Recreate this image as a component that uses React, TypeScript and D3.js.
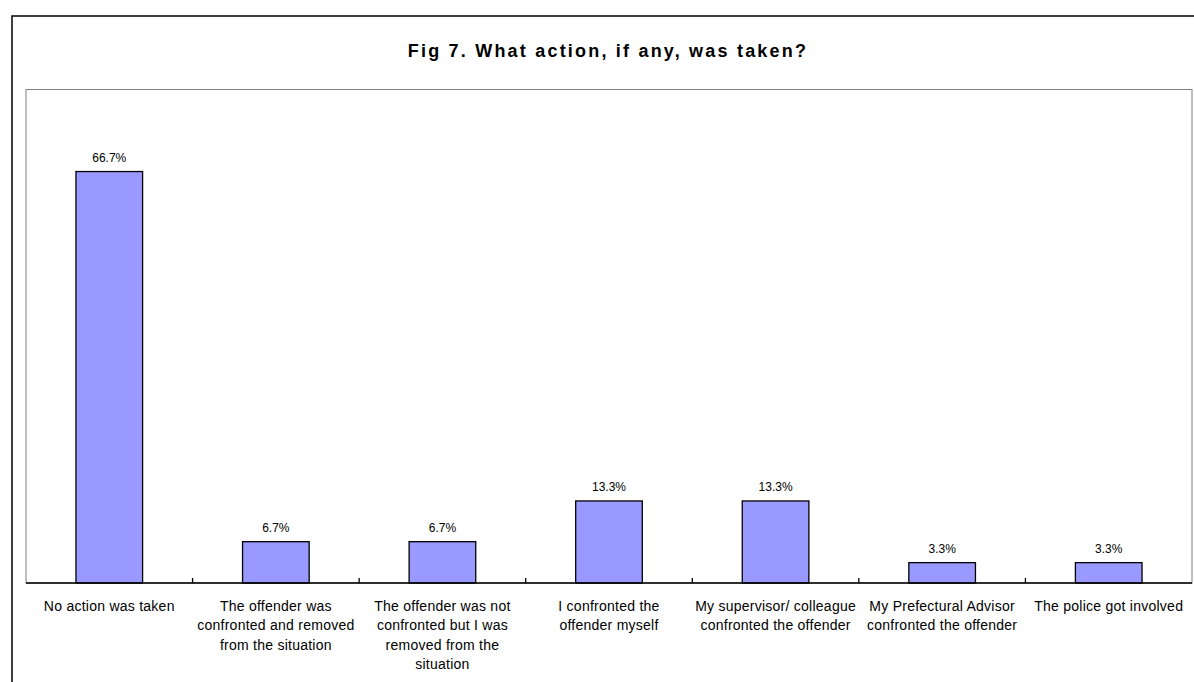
import React from "react";
import * as d3 from "d3";

const title = "Fig 7. What action, if any, was taken?";
const categories = [
  "No action was taken",
  "The offender was\nconfronted and removed\nfrom the situation",
  "The offender was not\nconfronted but I was\nremoved from the\nsituation",
  "I confronted the\noffender myself",
  "My supervisor/ colleague\nconfronted the offender",
  "My Prefectural Advisor\nconfronted the offender",
  "The police got involved",
];
const values = [66.7, 6.7, 6.7, 13.3, 13.3, 3.3, 3.3];
const valueLabels = ["66.7%", "6.7%", "6.7%", "13.3%", "13.3%", "3.3%", "3.3%"];
const yMax = 80;

const W = 1194;
const H = 682;
const plot = { left: 26, right: 1192, top: 89.5, bottom: 583 };
const font = "'Liberation Sans', Arial, sans-serif";

export default function App() {
  const x = d3
    .scaleBand<string>()
    .domain(categories)
    .range([plot.left, plot.right])
    .paddingInner(0.6)
    .paddingOuter(0.3);
  const y = d3.scaleLinear().domain([0, yMax]).range([plot.bottom, plot.top]);
  const step = x.step();
  const tickXs = d3.range(1, categories.length).map((i) => plot.left + i * step);

  return (
    <svg
      width={W}
      height={H}
      style={{ position: "absolute", left: 0, top: 0, background: "#fff" }}
    >
      <rect x={0} y={0} width={W} height={H} fill="#fff" />
      {/* outer chart border */}
      <rect x={12} y={16} width={1210} height={720} fill="none" stroke="#000" strokeWidth={1.5} />
      {/* title */}
      <text
        x={608}
        y={57}
        textAnchor="middle"
        fontFamily={font}
        fontWeight="bold"
        fontSize={18}
        letterSpacing={2.2}
        fill="#000"
      >
        {title}
      </text>
      {/* plot area border */}
      <rect
        x={plot.left}
        y={plot.top}
        width={plot.right - plot.left}
        height={plot.bottom - plot.top}
        fill="#fff"
        stroke="#808080"
        strokeWidth={1}
      />
      {/* bars */}
      {categories.map((c, i) => (
        <rect
          key={c}
          x={x(c)}
          y={y(values[i])}
          width={x.bandwidth()}
          height={y(0) - y(values[i])}
          fill="#9999FF"
          stroke="#000"
          strokeWidth={1.3}
        />
      ))}
      {/* value labels */}
      {categories.map((c, i) => (
        <text
          key={"v" + c}
          x={(x(c) as number) + x.bandwidth() / 2}
          y={y(values[i]) - 9.5}
          textAnchor="middle"
          fontFamily={font}
          fontSize={12}
          fill="#000"
        >
          {valueLabels[i]}
        </text>
      ))}
      {/* axis line */}
      <line x1={plot.left} x2={plot.right} y1={plot.bottom} y2={plot.bottom} stroke="#000" strokeWidth={1.5} />
      {tickXs.map((tx, i) => (
        <line key={"t" + i} x1={tx} x2={tx} y1={plot.bottom} y2={plot.bottom - 5} stroke="#000" strokeWidth={1.3} />
      ))}
      {/* category labels */}
      {categories.map((c) => {
        const cx = (x(c) as number) + x.bandwidth() / 2;
        return (
          <text
            key={"c" + c}
            textAnchor="middle"
            fontFamily={font}
            fontSize={14}
            letterSpacing={0.25}
            fill="#000"
          >
            {c.split("\n").map((line, j) => (
              <tspan key={j} x={cx} y={611 + j * 19.3}>
                {line}
              </tspan>
            ))}
          </text>
        );
      })}
    </svg>
  );
}
